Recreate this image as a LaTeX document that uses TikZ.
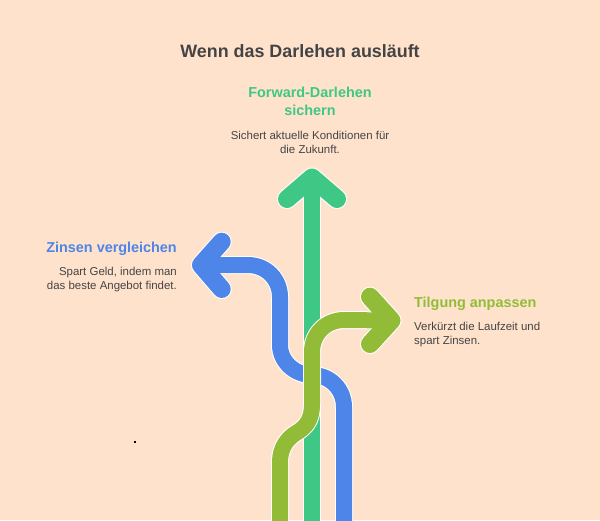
\documentclass[tikz,border=0pt]{standalone}
\usepackage{fontspec}
\setmainfont{Liberation Sans}
\definecolor{pageBack}{HTML}{FFE2CC}
\definecolor{greenArrow}{HTML}{3EC785}
\definecolor{blueArrow}{HTML}{4D86E8}
\definecolor{oliveArrow}{HTML}{92BC38}
\definecolor{textDark}{HTML}{444444}
\begin{document}
\begin{tikzpicture}
[x=1pt,y=-1pt,
  arrowDecorate/.style={line width=16pt,line cap=round,line join=round},%
  caseDecorate/.style={draw=white,line cap=round,line join=round},%
  titleDecorate/.style={font=\fontsize{17.9}{22}\selectfont\bfseries,text=textDark,inner sep=0pt},%
  headDecorate/.style={font=\fontsize{14.4}{18}\selectfont\bfseries,inner sep=0pt},%
  bodyDecorate/.style={font=\fontsize{11.45}{14}\selectfont,text=textDark,inner sep=0pt}]
\useasboundingbox (0,0) rectangle (600,520);
\fill[pageBack] (0,0) rectangle (600,520);
%% way points of the arrows
\foreach \pointname/\x/\y in {
  g0/312/532, gTip/312/177.5, gL/287/199, gR/337/199,
  b0/344/532, b1/344/407, b2/312/375, b3/280/345, b4/280/297, b5/248/265,
  bTip/201/265, bL/221.7/241.7, bR/221.7/289,
  o0/280/532, o1/280/462, o2/296/433, o3/312/405, o4/312/352, o5/344/320,
  oTip/391.5/320.5, oL/370/296.7, oR/370/344}
{
  \coordinate (\pointname) at (\x,\y);
}
%% arrows
\draw[caseDecorate,line width=18pt] (g0) -- (gTip);
\draw[caseDecorate,line width=20pt] (gL) -- (gTip) -- (gR);
\draw[arrowDecorate,greenArrow] (g0) -- (gTip);
\draw[arrowDecorate,greenArrow,line width=18pt] (gL) -- (gTip) -- (gR);
\draw[caseDecorate,line width=18pt] (b0) -- (b1)
  .. controls (344,389) and (330,375) .. (b2)
  .. controls (294,375) and (280,361) .. (b3) -- (b4)
  .. controls (280,279) and (266,265) .. (b5) -- (bTip);
\draw[caseDecorate,line width=20pt] (bL) -- (bTip) -- (bR);
\draw[arrowDecorate,blueArrow] (b0) -- (b1)
  .. controls (344,389) and (330,375) .. (b2)
  .. controls (294,375) and (280,361) .. (b3) -- (b4)
  .. controls (280,279) and (266,265) .. (b5) -- (bTip);
\draw[arrowDecorate,blueArrow,line width=18pt] (bL) -- (bTip) -- (bR);
\draw[caseDecorate,line width=18pt] (o0) -- (o1)
  .. controls (280,447) and (288,438) .. (o2)
  .. controls (305,428) and (312,420) .. (o3) -- (o4)
  .. controls (312,334) and (326,320) .. (o5) -- (oTip);
\draw[caseDecorate,line width=20pt] (oL) -- (oTip) -- (oR);
\draw[arrowDecorate,oliveArrow] (o0) -- (o1)
  .. controls (280,447) and (288,438) .. (o2)
  .. controls (305,428) and (312,420) .. (o3) -- (o4)
  .. controls (312,334) and (326,320) .. (o5) -- (oTip);
\draw[arrowDecorate,oliveArrow,line width=18pt] (oL) -- (oTip) -- (oR);
%% texts
\node (title) at (300,51) [titleDecorate] {Wenn das Darlehen ausläuft};
\node (forwardHead) at (310,101) [headDecorate,text=greenArrow,align=center] {Forward-Darlehen\\sichern};
\node (forwardBody) at (310,142) [bodyDecorate,align=center] {Sichert aktuelle Konditionen für\\die Zukunft.};
\node (zinsenHead) at (177,249) [headDecorate,text=blueArrow,anchor=east] {Zinsen vergleichen};
\node (zinsenBody) at (177,280) [bodyDecorate,align=right,anchor=east] {Spart Geld, indem man\\das beste Angebot findet.};
\node (tilgungHead) at (414,304) [headDecorate,text=oliveArrow,anchor=west] {Tilgung anpassen};
\node (tilgungBody) at (414,335) [bodyDecorate,align=left,anchor=west] {Verkürzt die Laufzeit und\\spart Zinsen.};
\node (dot) at (135,442) [fill=black,inner sep=0pt,minimum size=1.6pt] {};
\end{tikzpicture}
\end{document}
